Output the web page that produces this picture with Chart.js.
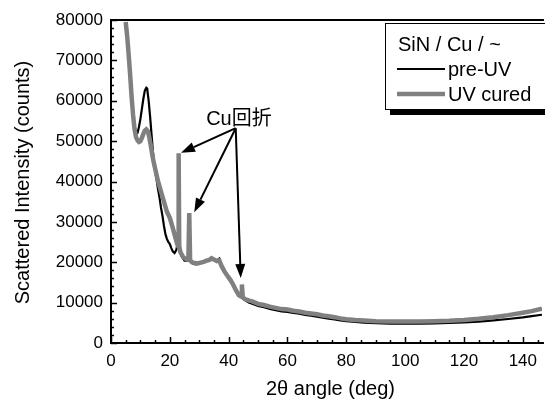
<!DOCTYPE html>
<html><head><meta charset="utf-8">
<script src="https://cdn.jsdelivr.net/npm/chart.js@4"></script>
<style>html,body{margin:0;padding:0;background:#fff}</style>
</head><body>
<canvas id="c" width="545" height="403"></canvas>
<script>
// ---- data ----
const seriesLabels = ['pre-UV', 'UV cured'];
const legendTitle = 'SiN / Cu / ~';
const xTitle = '2\u03b8 angle (deg)';
const yTitle = 'Scattered Intensity (counts)';
const annotationText = 'Cu回折';
const xTickValues = [0, 20, 40, 60, 80, 100, 120, 140];
const yTickValues = [0, 10000, 20000, 30000, 40000, 50000, 60000, 70000, 80000];

const anglePre = [5,5.5,6,6.5,7,7.5,8,8.5,9,9.5,10,10.5,11,11.5,12,12.3,12.8,13.3,13.8,14.3,15,15.5,16,16.5,17,17.5,18,18.5,19,19.5,20,20.5,21,21.6,22.2,22.7,23,23.4,24,25,26,26.6,27.2,28,29,30,31,32,33,34,35,36,36.8,37.5,38.5,39.5,40.5,41.5,42.5,43.5,44.5,45.5,47,48,50,52,54,56,58,60,62,64,66,68,70,72,74,76,78,80,83,86,90,95,100,105,110,115,120,125,130,135,140,143,146.5];
const intensityPre = [79500,76000,71500,66500,61000,56500,53200,51800,52000,53500,55500,58000,60500,62500,63200,63000,60000,56000,51500,47000,42500,40500,38000,36000,33500,31500,29000,27000,25800,25000,24500,23500,22700,22300,23000,25000,25800,23500,21500,20400,20400,21400,20200,19600,19500,19700,19900,20200,20400,20700,20600,20400,20900,19500,18100,17000,16000,14800,13400,12000,11200,10600,9950,9750,9150,8850,8450,8150,7850,7700,7450,7250,6950,6750,6550,6250,6050,5850,5600,5400,5200,5050,4900,4800,4800,4800,4850,4950,5100,5300,5600,5950,6350,6650,7000];

const angleUV = [5,5.5,6,6.5,7,7.5,8,8.5,9,9.5,10,10.5,11,11.5,12,12.5,13,13.5,14,14.5,15,16,17,18,19,20,21,22,22.5,22.8,23,23.2,23.6,24.5,25.5,26.3,26.6,26.9,27.5,28.5,29.5,30.5,31.5,32.5,33.5,34.2,35,36,36.8,37.5,38.5,39.5,40.5,41.5,42.5,43.5,44.2,44.5,44.8,45.5,47,48,50,52,54,56,58,60,62,64,66,68,70,72,74,76,78,80,83,86,90,95,100,105,110,115,120,125,130,135,140,143,146.5];
const intensityUV = [79500,76000,71500,66500,61000,56500,53000,51000,50200,49800,50000,50800,51800,52600,52900,52500,51000,49000,46800,44800,43200,40000,37500,35000,32500,31000,28500,25800,24500,24000,47000,24000,22500,21300,20800,20600,32200,20500,20000,19800,19700,19900,20100,20400,20600,21000,20700,20300,20500,19200,17800,16700,15700,14500,13000,11800,11500,14500,11300,10900,10500,10300,9700,9400,9000,8700,8400,8300,8000,7800,7500,7300,7100,6800,6600,6400,6100,5900,5700,5550,5400,5300,5300,5300,5400,5500,5700,6000,6400,6900,7500,7900,8500];

// annotation: label anchor and arrow targets (data units)
const arrowOrigin = [42.4, 53200];
const arrowTargets = [[23.8, 47100], [28.3, 32400], [44.1, 16100]];
const labelAnchor = [43.5, 58500];

const toXY = (xs, ys) => xs.map((x, i) => ({x: x, y: ys[i]}));

const overlay = {
  id: 'overlay',
  afterDatasetsDraw(chart) {
    const ctx = chart.ctx, a = chart.chartArea;
    const xs = chart.scales.x, ys = chart.scales.y;
    ctx.save();
    ctx.strokeStyle = '#000'; ctx.fillStyle = '#000';
    // axes frame
    ctx.lineWidth = 2;
    ctx.beginPath();
    ctx.moveTo(a.left, a.top); ctx.lineTo(a.right + 2, a.top);
    ctx.moveTo(a.left, a.top - 1); ctx.lineTo(a.left, a.bottom);
    ctx.lineTo(a.right + 2, a.bottom);
    ctx.stroke();
    // ticks inward
    ctx.lineWidth = 1.5;
    ctx.beginPath();
    for (let v = 0; v <= xs.max; v += 5) {
      const px = Math.round(xs.getPixelForValue(v)) + 0.5;
      const len = (v % 20 === 0) ? 6 : 3;
      ctx.moveTo(px, a.bottom); ctx.lineTo(px, a.bottom - len);
    }
    for (let v = 0; v <= ys.max; v += 2000) {
      const py = Math.round(ys.getPixelForValue(v)) + 0.5;
      const len = (v % 10000 === 0) ? 6 : 3;
      ctx.moveTo(a.left, py); ctx.lineTo(a.left + len, py);
    }
    ctx.stroke();
    // axis titles
    ctx.font = '20px "Liberation Sans", Arial, sans-serif';
    ctx.textAlign = 'center'; ctx.textBaseline = 'middle';
    ctx.fillText(xTitle, (a.left + a.right) / 2 + 4, 389);
    ctx.save();
    ctx.translate(23, (a.top + a.bottom) / 2 + 1);
    ctx.rotate(-Math.PI / 2);
    ctx.fillText(yTitle, 0, 0);
    ctx.restore();
    // annotation text
    ctx.font = '20px "Liberation Sans", "Noto Sans CJK JP", sans-serif';
    ctx.textAlign = 'center'; ctx.textBaseline = 'alphabetic';
    ctx.fillText(annotationText, xs.getPixelForValue(labelAnchor[0]), 125);
    // arrows
    const ox = xs.getPixelForValue(arrowOrigin[0]), oy = ys.getPixelForValue(arrowOrigin[1]);
    ctx.lineWidth = 2;
    arrowTargets.forEach(t => {
      const tx = xs.getPixelForValue(t[0]), ty = ys.getPixelForValue(t[1]);
      const ang = Math.atan2(ty - oy, tx - ox);
      const hl = 14, hw = 5;
      const bx = tx - hl * Math.cos(ang), by = ty - hl * Math.sin(ang);
      ctx.beginPath(); ctx.moveTo(ox, oy); ctx.lineTo(bx, by); ctx.stroke();
      ctx.beginPath();
      ctx.moveTo(tx, ty);
      ctx.lineTo(bx + hw * Math.sin(ang), by - hw * Math.cos(ang));
      ctx.lineTo(bx - hw * Math.sin(ang), by + hw * Math.cos(ang));
      ctx.closePath(); ctx.fill();
    });
    // legend
    const lx = 385, ly = 23, lw = 175, lh = 86;
    ctx.fillStyle = '#000';
    ctx.fillRect(lx + 5, ly + 6, lw, lh);
    ctx.fillStyle = '#fff';
    ctx.fillRect(lx, ly, lw, lh);
    ctx.lineWidth = 1; ctx.strokeStyle = '#000';
    ctx.strokeRect(lx + 0.5, ly + 0.5, lw, lh);
    ctx.fillStyle = '#000';
    ctx.font = '20px "Liberation Sans", Arial, sans-serif';
    ctx.textAlign = 'left'; ctx.textBaseline = 'alphabetic';
    ctx.fillText(legendTitle, 398, 51);
    const dsets = chart.data.datasets;
    const rows = [69, 94];
    dsets.forEach((d, i) => {
      ctx.strokeStyle = d.borderColor; ctx.lineWidth = d.borderWidth;
      ctx.beginPath(); ctx.moveTo(397, rows[i]); ctx.lineTo(445, rows[i]); ctx.stroke();
      ctx.fillStyle = '#000';
      ctx.fillText(d.label, 448, rows[i] + 7);
    });
    ctx.restore();
  }
};

new Chart(document.getElementById('c'), {
  type: 'scatter',
  data: {
    datasets: [
      {label: seriesLabels[0], data: toXY(anglePre, intensityPre), showLine: true, borderColor: '#000', borderWidth: 2.2, pointRadius: 0, order: 1},
      {label: seriesLabels[1], data: toXY(angleUV, intensityUV), showLine: true, borderColor: '#808080', borderWidth: 4.5, pointRadius: 0, order: 0}
    ]
  },
  options: {
    responsive: false, animation: false, devicePixelRatio: 1,
    layout: {padding: {top: 20, right: 0, left: 0, bottom: 0}},
    plugins: {legend: {display: false}, tooltip: {enabled: false}},
    scales: {
      x: {
        type: 'linear', min: 0, max: 146.5,
        afterFit: s => { s.height = 60; },
        afterBuildTicks: s => { s.ticks = xTickValues.map(v => ({value: v})); },
        ticks: {includeBounds: false, color: '#000', padding: 8, maxRotation: 0, autoSkip: false,
                callback: v => String(v),
                font: {family: '"Liberation Sans", Arial, sans-serif', size: 17}},
        grid: {display: false, drawTicks: false}, border: {display: false}
      },
      y: {
        type: 'linear', min: 0, max: 80000,
        afterFit: s => { s.width = 111; },
        afterBuildTicks: s => { s.ticks = yTickValues.map(v => ({value: v})); },
        ticks: {includeBounds: false, color: '#000', padding: 8, autoSkip: false,
                callback: v => String(v),
                font: {family: '"Liberation Sans", Arial, sans-serif', size: 17}},
        grid: {display: false, drawTicks: false}, border: {display: false}
      }
    }
  },
  plugins: [overlay]
});
</script>
</body></html>
